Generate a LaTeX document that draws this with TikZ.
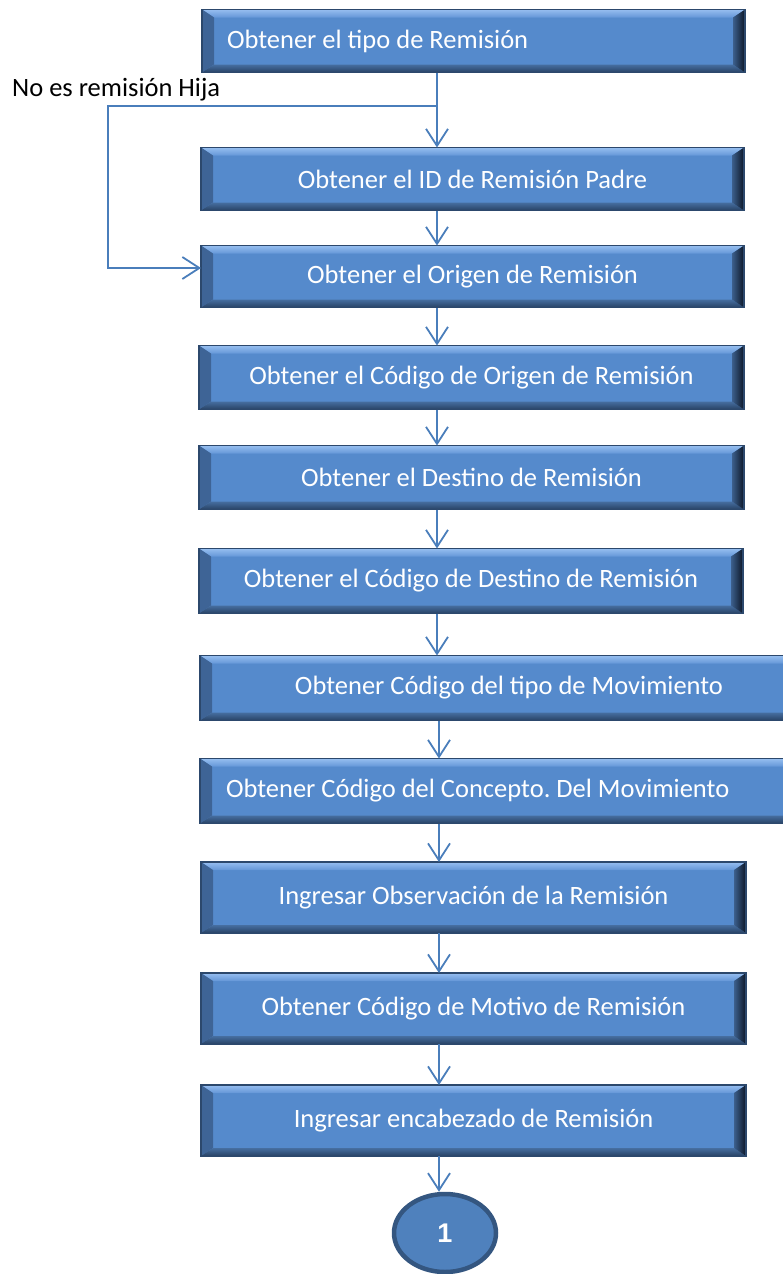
\documentclass[tikz,border=0pt]{standalone}
\usepackage{fontspec}
\setmainfont{Carlito}
\newfontfamily\numfont{Liberation Sans}
\usetikzlibrary{arrows.meta,shapes.geometric,calc}
\frenchspacing
\definecolor{face}{RGB}{85,138,204}
\definecolor{edge}{RGB}{44,72,108}
\definecolor{bevtopA}{RGB}{150,190,240}
\definecolor{bevtopB}{RGB}{100,150,215}
\definecolor{bevleft}{RGB}{62,100,150}
\definecolor{bevbotA}{RGB}{70,110,160}
\definecolor{bevbotB}{RGB}{40,66,100}
\definecolor{bevrightA}{RGB}{60,95,140}
\definecolor{bevrightB}{RGB}{12,22,38}
\definecolor{arrowblue}{RGB}{74,126,187}
\definecolor{circfill}{RGB}{79,129,189}
\definecolor{circedge}{RGB}{52,86,128}
\tikzset{
  bevelbox/.style={rectangle, inner sep=0pt, outer sep=0pt, fill=face, draw=edge,
    line width=1.4pt, text=white, font=\fontsize{26.5}{30}\selectfont,
    path picture={
      \coordinate (pNW) at (path picture bounding box.north west);
      \coordinate (pNE) at (path picture bounding box.north east);
      \coordinate (pSW) at (path picture bounding box.south west);
      \coordinate (pSE) at (path picture bounding box.south east);
      \shade[top color=bevtopA, bottom color=bevtopB] (pNW) -- (pNE) -- ($(pNE)+(-12pt,-8pt)$) -- ($(pNW)+(12pt,-8pt)$) -- cycle;
      \fill[bevleft] (pNW) -- ($(pNW)+(12pt,-8pt)$) -- ($(pSW)+(12pt,8pt)$) -- (pSW) -- cycle;
      \shade[top color=bevbotA, bottom color=bevbotB] (pSW) -- ($(pSW)+(12pt,8pt)$) -- ($(pSE)+(-12pt,8pt)$) -- (pSE) -- cycle;
      \shade[left color=bevrightA, right color=bevrightB] (pNE) -- ($(pNE)+(-12pt,-8pt)$) -- ($(pSE)+(-12pt,8pt)$) -- (pSE) -- cycle;
    }},
  lefttext/.style={align=flush left, inner xsep=#1},
  arr/.style={draw=arrowblue, line width=1.8pt, -{Straight Barb[length=17pt,width=22pt]}},
  endcirc/.style={ellipse, fill=circfill, draw=circedge, line width=4.5pt, inner sep=0pt,
    minimum width=102pt, minimum height=78pt, text=white, font=\numfont\bfseries\fontsize{27}{30}\selectfont},
  lbl/.style={font=\fontsize{26.5}{30}\selectfont, text=black, inner sep=0pt}
}
\begin{document}
\begin{tikzpicture}[x=1pt,y=-1pt]
\useasboundingbox (0,0) rectangle (783,1274);
\node[bevelbox, minimum width=543pt, minimum height=63pt, text width=493pt, lefttext=25pt] (b1) at (473.5,41) {Obtener el tipo de Remisión};
\node[bevelbox, minimum width=543pt, minimum height=63pt] (b2) at (472.5,179) {Obtener el ID de Remisión Padre};
\node[bevelbox, minimum width=543pt, minimum height=62pt] (b3) at (472.5,276.5) {Obtener el Origen de Remisión};
\node[bevelbox, minimum width=545pt, minimum height=64pt] (b4) at (471.5,377.5) {Obtener el Código de Origen de Remisión};
\node[bevelbox, minimum width=545pt, minimum height=64pt] (b5) at (471.5,477.5) {Obtener el Destino de Remisión};
\node[bevelbox, minimum width=544pt, minimum height=65pt] (b6) at (471,581) {Obtener el Código de Destino de Remisión};
\node[bevelbox, minimum width=618pt, minimum height=65pt] (b7) at (509,688) {Obtener Código del tipo de Movimiento};
\node[bevelbox, minimum width=618pt, minimum height=65pt, text width=566pt, lefttext=26pt] (b8) at (509,791) {Obtener Código del Concepto. Del Movimiento};
\node[bevelbox, minimum width=545pt, minimum height=71pt] (b9) at (473.5,897.5) {Ingresar Observación de la Remisión};
\node[bevelbox, minimum width=545pt, minimum height=71pt] (b10) at (473.5,1008.5) {Obtener Código de Motivo de Remisión};
\node[bevelbox, minimum width=545pt, minimum height=71pt] (b11) at (473.5,1120.5) {Ingresar encabezado de Remisión};
\node[endcirc] (c1) at (445,1233) {1};
\node[lbl, anchor=west] (nolbl) at (12,90) {No es remisión Hija};
\coordinate (ax) at (437,0);
\coordinate (bx) at (439,0);
\coordinate (br) at (437,106);
\coordinate (k1) at (108,106);
\coordinate (k2) at (108,268);
\draw[arr] (b1.south -| ax) -- (b2.north -| ax);
\draw[arr] (b2.south -| ax) -- (b3.north -| ax);
\draw[arr] (br) -- (k1) -- (k2) -- (b3.west |- k2);
\draw[arr] (b3.south -| ax) -- (b4.north -| ax);
\draw[arr] (b4.south -| ax) -- (b5.north -| ax);
\draw[arr] (b5.south -| ax) -- (b6.north -| ax);
\draw[arr] (b6.south -| ax) -- (b7.north -| ax);
\draw[arr] (b7.south -| bx) -- (b8.north -| bx);
\draw[arr] (b8.south -| bx) -- (b9.north -| bx);
\draw[arr] (b9.south -| bx) -- (b10.north -| bx);
\draw[arr] (b10.south -| bx) -- (b11.north -| bx);
\draw[arr] (b11.south -| bx) -- (c1.north -| bx);
\end{tikzpicture}
\end{document}
